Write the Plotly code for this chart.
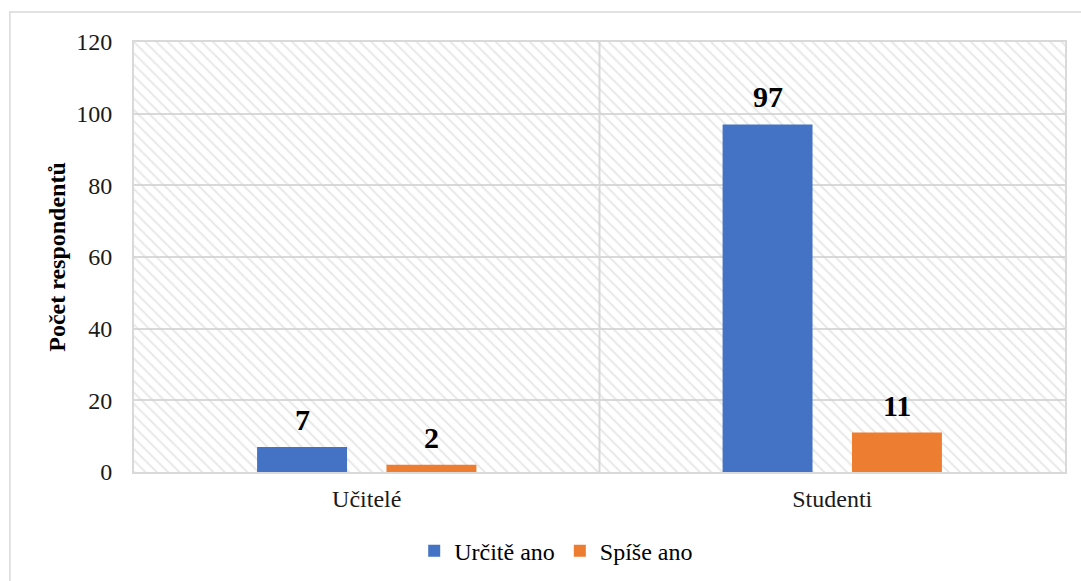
import plotly.graph_objects as go

# Survey answers: number of respondents per group
groups = ["Učitelé", "Studenti"]
series_names = ["Určitě ano", "Spíše ano"]
urcite_ano = [7, 97]
spise_ano = [2, 11]
series_values = [urcite_ano, spise_ano]
series_colors = ["#4472C4", "#ED7D31"]
y_ticks = [0, 20, 40, 60, 80, 100, 120]

serif = "Liberation Serif"
grid = "#d9d9d9"

fig = go.Figure()

# Hatched plot-area background on the base (hidden) axis pair
fig.add_trace(go.Scatter(
    x=[0, 1, 1, 0, 0], y=[0, 0, 1, 1, 0],
    xaxis="x", yaxis="y",
    mode="lines", line=dict(width=0),
    fill="toself", fillcolor="rgba(0,0,0,0)",
    fillpattern=dict(shape="\\", fgcolor="#d2d2d2", bgcolor="rgba(0,0,0,0)",
                     size=8, solidity=0.25),
    hoverinfo="skip", showlegend=False,
))

# Grouped bars on the data axes
for name, vals, col in zip(series_names, series_values, series_colors):
    fig.add_trace(go.Bar(
        name=name, x=groups, y=vals, xaxis="x2", yaxis="y2",
        marker=dict(color=col, line=dict(width=0)),
    ))

# Value labels above the bars
annotations = []
offsets = [-0.139, 0.139]
for vals, off in zip(series_values, offsets):
    for g, v in enumerate(vals):
        annotations.append(dict(
            x=g + off, y=v, xref="x2", yref="y2", text=f"<b>{v}</b>",
            showarrow=False, yanchor="bottom", yshift=9,
            font=dict(family=serif, size=30, color="black"),
        ))

fig.update_layout(
    width=1081, height=581,
    margin=dict(l=134, r=16, t=42, b=109, autoexpand=False),
    paper_bgcolor="white", plot_bgcolor="white",
    barmode="group", bargap=0.444, bargroupgap=0.305,
    font=dict(family=serif, color="black"),
    xaxis=dict(range=[0, 1], visible=False, fixedrange=True),
    yaxis=dict(range=[0, 1], visible=False, fixedrange=True),
    xaxis2=dict(
        type="category", range=[-0.5, 1.5], overlaying="x", showgrid=False,
        showline=True, linecolor=grid, linewidth=2, mirror=True,
        ticks="", tickfont=dict(size=24, family=serif, color="#1a1a1a"),
        ticklabelstandoff=4,
    ),
    yaxis2=dict(
        range=[0, 120], tickvals=y_ticks, overlaying="y",
        showgrid=True, gridcolor=grid, gridwidth=2, zeroline=False,
        showline=True, linecolor=grid, linewidth=2, mirror=True,
        ticks="", tickfont=dict(size=24, family=serif, color="#1a1a1a"),
        ticklabelstandoff=15,
        title=dict(text="<b>Počet respondentů</b>",
                   font=dict(size=24, family=serif, color="black"),
                   standoff=4),
    ),
    legend=dict(
        orientation="h", x=0.4535, xanchor="center", y=-0.184, yanchor="middle",
        font=dict(size=24, family=serif, color="black"),
        itemwidth=30, traceorder="normal",
    ),
    annotations=annotations,
    shapes=[
        # category separator
        dict(type="line", xref="x2", yref="paper", x0=0.5, x1=0.5, y0=0, y1=1,
             line=dict(color=grid, width=2), layer="below"),
        # outer chart frame
        dict(type="rect", xref="paper", yref="paper",
             x0=-124 / 930, x1=1.1, y0=-0.3, y1=1 + 30 / 430,
             line=dict(color=grid, width=1.5), layer="below"),
    ],
)

fig.write_html("out.html")
